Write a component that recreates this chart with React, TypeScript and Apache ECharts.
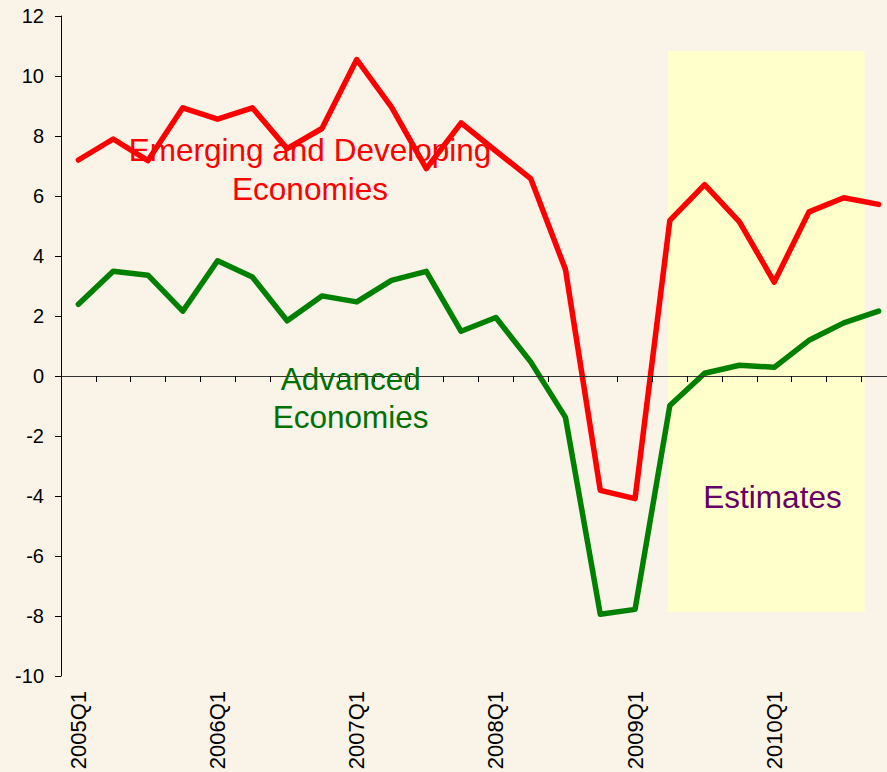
import React, { useEffect, useRef } from "react";
import * as echarts from "echarts";

const quarters = [
  "2005Q1", "2005Q2", "2005Q3", "2005Q4",
  "2006Q1", "2006Q2", "2006Q3", "2006Q4",
  "2007Q1", "2007Q2", "2007Q3", "2007Q4",
  "2008Q1", "2008Q2", "2008Q3", "2008Q4",
  "2009Q1", "2009Q2", "2009Q3", "2009Q4",
  "2010Q1", "2010Q2", "2010Q3", "2010Q4",
];

const emerging = [
  7.2, 7.9, 7.18, 8.94,
  8.56, 8.94, 7.58, 8.25,
  10.55, 8.96, 6.91, 8.44,
  7.5, 6.58, 3.55, -3.81,
  -4.09, 5.19, 6.38, 5.14,
  3.13, 5.47, 5.94, 5.72,
];

const advanced = [
  2.39, 3.49, 3.36, 2.16,
  3.84, 3.3, 1.84, 2.67,
  2.47, 3.19, 3.49, 1.49,
  1.95, 0.47, -1.38, -7.94,
  -7.78, -0.98, 0.09, 0.36,
  0.29, 1.19, 1.77, 2.16,
];

const yMin = -10;
const yMax = 12;
const yStep = 2;

// Estimates band, in category-index units (x) and value units (y)
const bandX = [16.95, 22.6];
const bandY = [10.83, -7.87];

const FONT = '"Liberation Sans", Arial, sans-serif';

export default function App() {
  const ref = useRef<HTMLDivElement>(null);

  useEffect(() => {
    if (!ref.current) return;
    const chart = echarts.init(ref.current, null, { renderer: "svg" });
    chart.setOption({
      animation: false,
      backgroundColor: "#FAF3E8",
      grid: {
        left: 61,
        top: 16,
        width: 835,
        height: 660,
        containLabel: false,
        outerBoundsMode: "none",
      },
      xAxis: [
        {
          type: "category",
          data: quarters,
          position: "bottom",
          boundaryGap: true,
          z: 5,
          axisLine: { show: true, onZero: true, lineStyle: { color: "#333", width: 1 } },
          axisTick: { show: true, length: 6, interval: 0, lineStyle: { color: "#000" } },
          axisLabel: { show: false },
          splitLine: { show: false },
        },
        {
          type: "category",
          data: quarters,
          position: "bottom",
          boundaryGap: true,
          axisLine: { show: false, onZero: false },
          axisTick: { show: false },
          axisLabel: {
            interval: 3,
            rotate: 90,
            fontSize: 22,
            color: "#000",
            fontFamily: FONT,
            margin: 15,
          },
          splitLine: { show: false },
        },
        {
          type: "value",
          min: -0.5,
          max: 23.5,
          show: false,
          position: "bottom",
          axisLine: { onZero: false },
        },
      ],
      yAxis: {
        type: "value",
        min: yMin,
        max: yMax,
        interval: yStep,
        axisLine: { show: true, onZero: false, lineStyle: { color: "#000", width: 1 } },
        axisTick: { show: true, length: 6, lineStyle: { color: "#000" } },
        splitLine: { show: false },
        axisLabel: { fontSize: 20, color: "#000", fontFamily: FONT, margin: 17 },
      },
      series: [
        {
          type: "line",
          xAxisIndex: 2,
          data: [],
          silent: true,
          markArea: {
            silent: true,
            itemStyle: { color: "#FFFFCC" },
            data: [
              [
                { coord: [bandX[0], bandY[0]] },
                { coord: [bandX[1], bandY[1]] },
              ],
            ],
          },
        },
        {
          type: "line",
          name: "Advanced Economies",
          xAxisIndex: 0,
          data: advanced,
          symbol: "none",
          z: 3,
          lineStyle: { color: "#008000", width: 5.5, cap: "round", join: "round" },
        },
        {
          type: "line",
          name: "Emerging and Developing Economies",
          xAxisIndex: 0,
          data: emerging,
          symbol: "none",
          z: 4,
          lineStyle: { color: "#FF0000", width: 5.5, cap: "round", join: "round" },
        },
      ],
      graphic: [
        {
          type: "text",
          x: 310,
          y: 169.5,
          z: 10,
          style: {
            text: "Emerging and Developing\nEconomies",
            fill: "#FF0000",
            fontSize: 31.5,
            fontFamily: FONT,
            lineHeight: 38.4,
            align: "center",
            verticalAlign: "middle",
          },
        },
        {
          type: "text",
          x: 350.7,
          y: 397.7,
          z: 10,
          style: {
            text: "Advanced\nEconomies",
            fill: "#007000",
            fontSize: 31.5,
            fontFamily: FONT,
            lineHeight: 38.4,
            align: "center",
            verticalAlign: "middle",
          },
        },
        {
          type: "text",
          x: 772.5,
          y: 497,
          z: 10,
          style: {
            text: "Estimates",
            fill: "#660066",
            fontSize: 31.5,
            fontFamily: FONT,
            align: "center",
            verticalAlign: "middle",
          },
        },
      ],
    });
    return () => chart.dispose();
  }, []);

  return (
    <div
      ref={ref}
      style={{ position: "absolute", left: 0, top: 0, width: 887, height: 772 }}
    />
  );
}
